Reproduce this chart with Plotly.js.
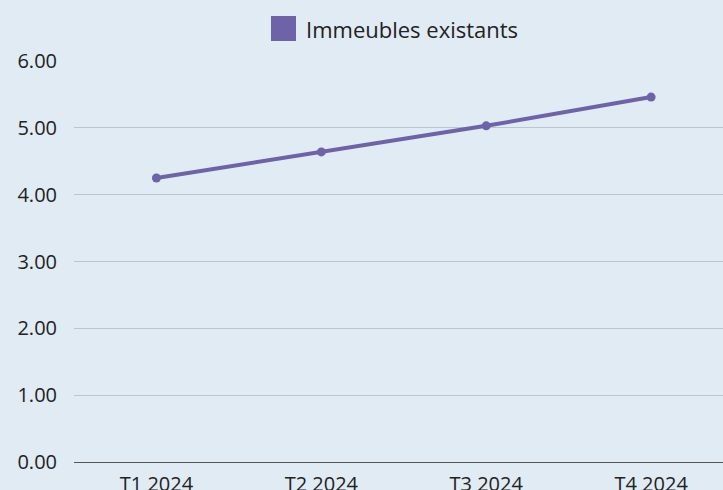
<!DOCTYPE html>
<html><head><meta charset="utf-8">
<script src="https://cdn.plot.ly/plotly-3.0.1.min.js"></script>
<style>html,body{margin:0;padding:0;background:#e0ebf4}</style>
</head><body>
<div id="chart" style="width:723px;height:490px"></div>
<script>
var categories = ["T1 2024", "T2 2024", "T3 2024", "T4 2024"];
var values = [4.25, 4.64, 5.03, 5.46];
var seriesName = "Immeubles existants";
var yTicks = [0, 1, 2, 3, 4, 5, 6];

var purple = "#6e62a8";
var font = "Open Sans, sans-serif";

var traces = [{
  type: "scatter", mode: "lines+markers",
  x: categories, y: values, name: seriesName,
  line: {color: purple, width: 4},
  marker: {color: purple, size: 9},
  showlegend: false, hoverinfo: "skip"
}];

var layout = {
  width: 723, height: 490,
  paper_bgcolor: "#e0ebf4", plot_bgcolor: "#e0ebf4",
  margin: {l: 74, r: 0, t: 61, b: 28},
  font: {family: font, size: 20, color: "#222"},
  showlegend: false,
  xaxis: {
    type: "category", range: [-0.5, 3.436],
    showgrid: false, zeroline: false,
    showline: false, ticks: "", ticklabelstandoff: 8,
    tickfont: {size: 20, color: "#222"}
  },
  yaxis: {
    range: [0, 6], tickvals: yTicks, tickformat: ".2f",
    showgrid: true, gridcolor: "#b9c5cf", gridwidth: 1,
    zeroline: true, zerolinecolor: "#555", zerolinewidth: 1,
    showline: false, ticks: "", ticklabelstandoff: 16,
    tickfont: {size: 20, color: "#222"}
  },
  shapes: [{
    type: "rect", xref: "paper", yref: "paper",
    x0: (271 - 74) / 649, x1: (296 - 74) / 649,
    y0: (462 - 41) / 401, y1: (462 - 16) / 401,
    fillcolor: purple, line: {width: 0}
  }],
  annotations: [{
    xref: "paper", yref: "paper", x: (304 - 74) / 649, y: (462 - 29) / 401,
    xanchor: "left", yanchor: "middle", showarrow: false,
    text: seriesName, font: {size: 22, color: "#222", family: font}
  }]
};
Plotly.newPlot("chart", traces, layout, {displayModeBar: false, staticPlot: true});
</script>
</body></html>
